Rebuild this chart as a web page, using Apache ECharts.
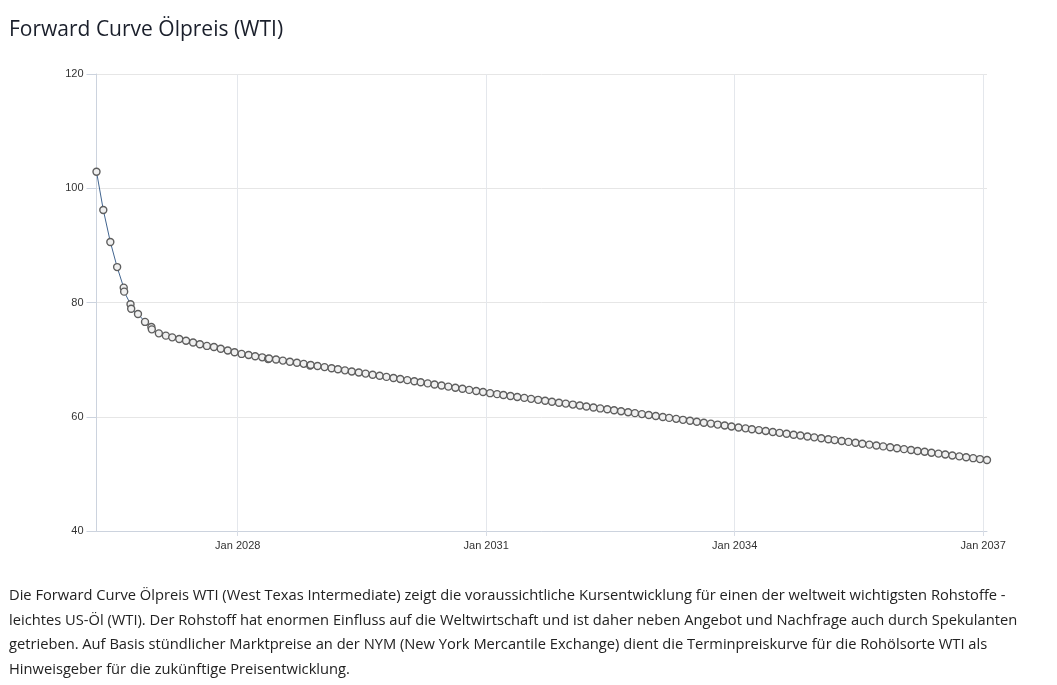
<!DOCTYPE html>
<html>
<head>
<meta charset="utf-8">
<script src="https://cdn.jsdelivr.net/npm/echarts@6/dist/echarts.min.js"></script>
<style>
  html, body { margin: 0; padding: 0; background: #fff; }
  #chart { position: absolute; left: 0; top: 0; width: 1057px; height: 685px; }
  #title { position: absolute; left: 9px; top: 14px; font-family: "Open Sans", sans-serif; font-size: 21px; line-height: 28px; color: #1a1f2b; white-space: nowrap; z-index: 2; }
  #desc { position: absolute; left: 9px; top: 582px; font-family: "Open Sans", sans-serif; font-size: 14.7px; line-height: 24.5px; color: #222; white-space: nowrap; z-index: 2; }
</style>
</head>
<body>
<div id="title">Forward Curve Ölpreis (WTI)</div>
<div id="chart"></div>
<div id="desc">Die Forward Curve Ölpreis WTI (West Texas Intermediate) zeigt die voraussichtliche Kursentwicklung für einen der weltweit wichtigsten Rohstoffe -<br>leichtes US-Öl (WTI). Der Rohstoff hat enormen Einfluss auf die Weltwirtschaft und ist daher neben Angebot und Nachfrage auch durch Spekulanten<br>getrieben. Auf Basis stündlicher Marktpreise an der NYM (New York Mercantile Exchange) dient die Terminpreiskurve für die Rohölsorte WTI als<br>Hinweisgeber für die zukünftige Preisentwicklung.</div>
<script>
const dates = [
  '2026-04-18','2026-05-18','2026-06-18','2026-07-18','2026-08-16','2026-08-18','2026-09-15','2026-09-18','2026-10-18','2026-11-18','2026-12-16','2026-12-18',
  '2027-01-18','2027-02-18','2027-03-18','2027-04-18','2027-05-18','2027-06-18','2027-07-18','2027-08-18','2027-09-18','2027-10-18','2027-11-18','2027-12-18',
  '2028-01-18','2028-02-18','2028-03-18','2028-04-18','2028-05-14','2028-05-18','2028-06-18','2028-07-18','2028-08-18','2028-09-18','2028-10-18','2028-11-15','2028-11-18','2028-12-18',
  '2029-01-18','2029-02-18','2029-03-18','2029-04-18','2029-05-18','2029-06-18','2029-07-18','2029-08-18','2029-09-18','2029-10-18','2029-11-18','2029-12-18',
  '2030-01-18','2030-02-18','2030-03-18','2030-04-18','2030-05-18','2030-06-18','2030-07-18','2030-08-18','2030-09-18','2030-10-18','2030-11-18','2030-12-18',
  '2031-01-18','2031-02-18','2031-03-18','2031-04-18','2031-05-18','2031-06-18','2031-07-18','2031-08-18','2031-09-18','2031-10-18','2031-11-18','2031-12-18',
  '2032-01-18','2032-02-18','2032-03-18','2032-04-18','2032-05-18','2032-06-18','2032-07-18','2032-08-18','2032-09-18','2032-10-18','2032-11-18','2032-12-18',
  '2033-01-18','2033-02-18','2033-03-18','2033-04-18','2033-05-18','2033-06-18','2033-07-18','2033-08-18','2033-09-18','2033-10-18','2033-11-18','2033-12-18',
  '2034-01-18','2034-02-18','2034-03-18','2034-04-18','2034-05-18','2034-06-18','2034-07-18','2034-08-18','2034-09-18','2034-10-18','2034-11-18','2034-12-18',
  '2035-01-18','2035-02-18','2035-03-18','2035-04-18','2035-05-18','2035-06-18','2035-07-18','2035-08-18','2035-09-18','2035-10-18','2035-11-18','2035-12-18',
  '2036-01-18','2036-02-18','2036-03-18','2036-04-18','2036-05-18','2036-06-18','2036-07-18','2036-08-18','2036-09-18','2036-10-18','2036-11-18','2036-12-18',
  '2037-01-18'
];
const prices = [
  102.9, 96.2, 90.6, 86.2, 82.6, 81.9, 79.7, 78.9, 78.0, 76.6, 75.7, 75.3,
  74.6, 74.2, 73.9, 73.6, 73.3, 73.0, 72.7, 72.4, 72.2, 71.9, 71.6, 71.3,
  71.0, 70.8, 70.6, 70.4, 70.1, 70.21, 70.02, 69.83, 69.64, 69.45, 69.26, 68.98, 69.07, 68.88,
  68.69, 68.50, 68.31, 68.12, 67.93, 67.74, 67.55, 67.36, 67.17, 66.98, 66.79, 66.60,
  66.41, 66.22, 66.03, 65.84, 65.65, 65.46, 65.27, 65.08, 64.89, 64.70, 64.51, 64.32,
  64.13, 63.96, 63.80, 63.63, 63.46, 63.30, 63.13, 62.96, 62.80, 62.63, 62.46, 62.30,
  62.13, 61.96, 61.80, 61.63, 61.46, 61.30, 61.13, 60.96, 60.80, 60.63, 60.46, 60.30,
  60.13, 59.96, 59.80, 59.63, 59.46, 59.30, 59.13, 58.96, 58.80, 58.63, 58.46, 58.30,
  58.13, 57.97, 57.81, 57.66, 57.50, 57.34, 57.18, 57.02, 56.86, 56.71, 56.55, 56.39,
  56.23, 56.07, 55.91, 55.76, 55.60, 55.44, 55.28, 55.12, 54.96, 54.81, 54.65, 54.49,
  54.33, 54.17, 54.01, 53.86, 53.70, 53.54, 53.38, 53.22, 53.06, 52.91, 52.75, 52.59,
  52.43
];
const xTickDates = ['2028-01-01', '2031-01-01', '2034-01-01', '2037-01-01'];
const yTicks = [40, 60, 80, 100, 120];
const monthNames = ['Jan','Feb','Mar','Apr','May','Jun','Jul','Aug','Sep','Oct','Nov','Dec'];

function toTime(s) { const p = s.split('-').map(Number); return Date.UTC(p[0], p[1] - 1, p[2]); }
const seriesData = dates.map((d, i) => [toTime(d), prices[i]]);
const xTickValues = xTickDates.map(toTime);

const chart = echarts.init(document.getElementById('chart'));
chart.setOption({
  animation: false,
  grid: { left: 96.5, right: 70, top: 74, bottom: 154, containLabel: false },
  xAxis: {
    type: 'value',
    min: toTime(dates[0]),
    max: toTime(dates[dates.length - 1]),
    axisLine: { show: true, lineStyle: { color: '#ccd3de', width: 1 } },
    axisTick: { show: true, length: 5, customValues: xTickValues, lineStyle: { color: '#d8dde6' } },
    axisLabel: {
      customValues: xTickValues,
      margin: 9,
      fontFamily: 'Liberation Sans, Arial, sans-serif',
      fontSize: 11,
      color: '#333',
      formatter: function (v) { const d = new Date(v); return monthNames[d.getUTCMonth()] + ' ' + d.getUTCFullYear(); }
    },
    splitLine: { show: true, lineStyle: { color: '#e4e7ec', width: 1 } }
  },
  yAxis: {
    type: 'value',
    min: yTicks[0],
    max: yTicks[yTicks.length - 1],
    interval: 20,
    axisLine: { show: true, lineStyle: { color: '#ccd3de', width: 1 } },
    axisTick: { show: true, length: 10, lineStyle: { color: '#ccd3de' } },
    axisLabel: { margin: 13, fontFamily: 'Liberation Sans, Arial, sans-serif', fontSize: 11, color: '#333' },
    splitLine: { show: true, lineStyle: { color: '#e6e6e6', width: 1 } }
  },
  series: [{
    type: 'line',
    data: seriesData,
    clip: false,
    symbol: 'circle',
    symbolSize: 7,
    showAllSymbol: true,
    lineStyle: { color: '#41648f', width: 1 },
    itemStyle: { color: '#f0f0f0', borderColor: '#5e5e5e', borderWidth: 1.4 }
  }]
});
</script>
</body>
</html>
